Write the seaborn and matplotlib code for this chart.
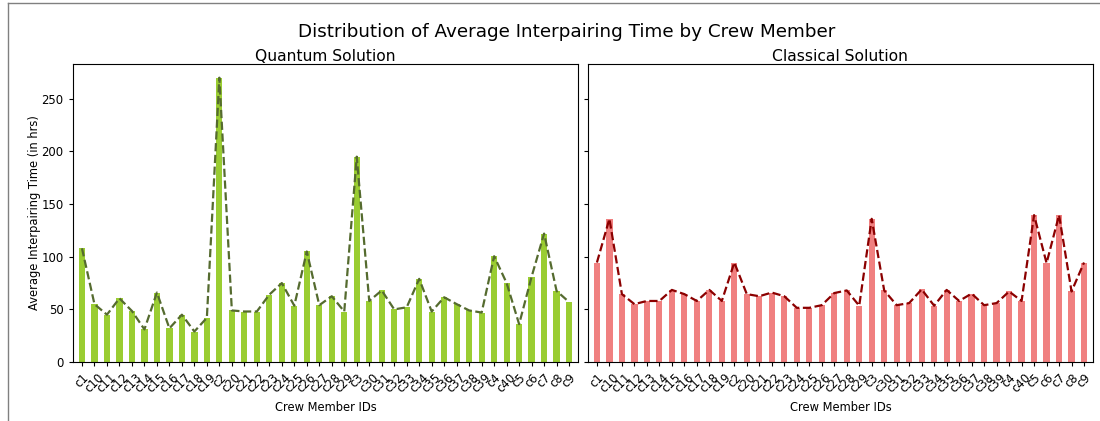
import matplotlib
matplotlib.use('Agg')
import matplotlib.pyplot as plt
import seaborn as sns
from matplotlib.lines import Line2D

# crew member ids (sorted as strings)
crew = ['c1', 'c10', 'c11', 'c12', 'c13', 'c14', 'c15', 'c16', 'c17', 'c18', 'c19',
        'c2', 'c20', 'c21', 'c22', 'c23', 'c24', 'c25', 'c26', 'c27', 'c28', 'c29',
        'c3', 'c30', 'c31', 'c32', 'c33', 'c34', 'c35', 'c36', 'c37', 'c38', 'c39',
        'c4', 'c40', 'c5', 'c6', 'c7', 'c8', 'c9']

# average interpairing time, quantum solution
quantum = [108, 55, 45, 60.5, 48.5, 31, 66, 32, 45, 29, 42,
           270, 49, 48, 48, 64, 75, 53.5, 105, 54, 62.5, 48,
           195, 58, 68, 50, 52, 79, 48, 61.5, 55, 49, 47,
           100.5, 75, 36, 81, 122, 67.5, 57]

# average interpairing time, classical solution
classical = [94.5, 136, 64.5, 55, 58, 58, 68.5, 64.5, 58, 68.5, 58,
             94.5, 64.5, 62.5, 66, 62.5, 51.5, 51.5, 54, 65.5, 68, 53.5,
             136, 68, 54, 56, 69, 53.5, 68.5, 58, 65, 54, 56,
             67, 58, 139.5, 94, 139.5, 67, 94.5]

plt.rcParams['xtick.labelsize'] = 8.4
plt.rcParams['ytick.labelsize'] = 8.4
plt.rcParams['axes.labelsize'] = 8.3

fig, axes = plt.subplots(1, 2, figsize=(11, 4.21), dpi=100, sharey=True)
fig.subplots_adjust(left=0.066, right=0.994, top=0.848, bottom=0.14, wspace=0.018)

# quantum panel
ax = axes[0]
sns.barplot(x=crew, y=quantum, color='yellowgreen', width=0.5, saturation=1, ax=ax)
sns.lineplot(x=crew, y=quantum, color='darkolivegreen', linestyle='--', lw=1.6, sort=False, ax=ax)
ax.set_title('Quantum Solution', fontsize=11.2, pad=1.5)
ax.set_xlabel('Crew Member IDs')
ax.set_ylabel('Average Interpairing Time (in hrs)', labelpad=0)
ax.tick_params(axis='x', rotation=45)

# classical panel
ax = axes[1]
sns.barplot(x=crew, y=classical, color='lightcoral', width=0.5, saturation=1, ax=ax)
sns.lineplot(x=crew, y=classical, color='darkred', linestyle='--', lw=1.6, sort=False, ax=ax)
ax.set_title('Classical Solution', fontsize=11.2, pad=1.5)
ax.set_xlabel('Crew Member IDs')
ax.tick_params(axis='x', rotation=45)

for ax in axes:
    ax.set_xlim(-0.75, len(crew) - 0.25)
    ax.set_ylim(0, 283)
    ax.tick_params(length=3)

fig.suptitle('Distribution of Average Interpairing Time by Crew Member', fontsize=13.2, x=0.515, y=0.945)

# frame around the figure (cropped at right/bottom)
fig.add_artist(Line2D([0.007, 1.0], [0.993, 0.993], transform=fig.transFigure, color='gray', lw=1))
fig.add_artist(Line2D([0.007, 0.007], [0.0, 0.993], transform=fig.transFigure, color='gray', lw=1))

fig.savefig('out.png', dpi=100)
